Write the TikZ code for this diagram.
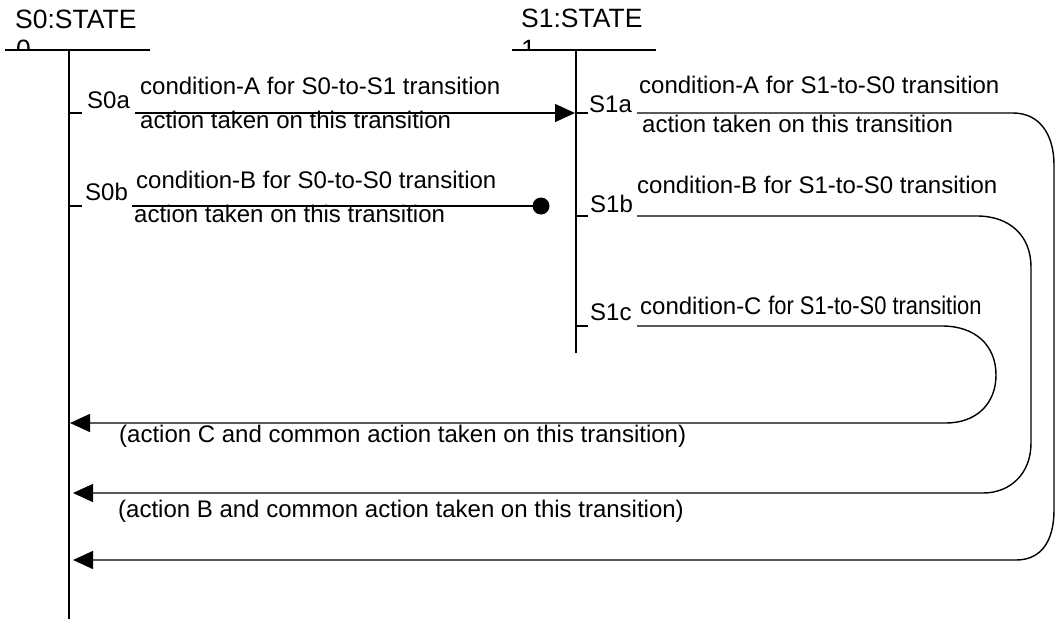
\documentclass[tikz,border=0pt]{standalone}
\usepackage{fontspec}
\setmainfont{Liberation Sans}
\newfontfamily\narrowf[FakeStretch=0.86]{Liberation Sans}
\usetikzlibrary{arrows.meta}
\begin{document}
\begin{tikzpicture}[x=1pt,y=-1pt,
  txt/.style={anchor=base west,inner sep=0pt,font=\fontsize{24}{28}\selectfont},
  hdr/.style={anchor=base west,inner sep=0pt,font=\fontsize{26.5}{30}\selectfont},
  life/.style={line width=1.5pt},
  bar/.style={line width=2.6pt},
  conn/.style={line width=1.4pt},
  tip/.style={-{Triangle[length=20pt,width=18pt]}},
]
\useasboundingbox (0,0) rectangle (1058,619);

% headers
\node[hdr] (h0) at (15,28) {S0:STATE};
\node[hdr] (h1) at (521,27) {S1:STATE};
\begin{scope}
  \clip (0,0) rectangle (1058,48.5);
  \node[hdr] (h0n) at (16,58) {0};
  \node[hdr] (h1n) at (521,58) {1};
\end{scope}
\coordinate (b0l) at (5,50);  \coordinate (b0r) at (150,50);
\coordinate (b1l) at (512,50); \coordinate (b1r) at (656,50);
\draw[bar] (b0l) -- (b0r);
\draw[bar] (b1l) -- (b1r);

% lifelines
\coordinate (l0t) at (69,50);  \coordinate (l0b) at (69,619);
\coordinate (l1t) at (576,50); \coordinate (l1b) at (576,353);
\draw[life] (l0t) -- (l0b);
\draw[life] (l1t) -- (l1b);

% ticks
\coordinate (t0a) at (69,113);  \coordinate (t0ae) at (82,113);
\coordinate (t0b) at (69,206);  \coordinate (t0be) at (82,206);
\coordinate (t1a) at (576,113); \coordinate (t1ae) at (588,113);
\coordinate (t1b) at (576,216); \coordinate (t1be) at (588,216);
\coordinate (t1c) at (576,326); \coordinate (t1ce) at (588,326);
\draw[life] (t0a) -- (t0ae);
\draw[life] (t0b) -- (t0be);
\draw[life] (t1a) -- (t1ae);
\draw[life] (t1b) -- (t1be);
\draw[life] (t1c) -- (t1ce);

% labels
\node[txt] (S0a) at (87,108) {S0a};
\node[txt] (S0b) at (85,200) {S0b};
\node[txt] (S1a) at (589,112) {S1a};
\node[txt] (S1b) at (590,212) {S1b};
\node[txt] (S1c) at (590,320) {S1c};

% S0a transition
\node[txt] (c0a) at (140,94) {condition-A for S0-to-S1 transition};
\node[txt] (a0a) at (140,128) {action taken on this transition};
\coordinate (s0a) at (135,113);
\coordinate (e0a) at (575,113);
\draw[conn,tip] (s0a) -- (e0a);

% S0b transition
\node[txt] (c0b) at (136,188) {condition-B for S0-to-S0 transition};
\node[txt] (a0b) at (134,222) {action taken on this transition};
\coordinate (s0b) at (132,206);
\node[circle,fill,inner sep=0pt,minimum size=17pt] (dot) at (541,206) {};
\draw[conn] (s0b) -- (dot.center);

% S1a transition
\node[txt] (c1a) at (639,93) {condition-A for S1-to-S0 transition};
\node[txt] (a1a) at (642,132) {action taken on this transition};
\coordinate (s1a) at (637,113);
\coordinate (ra) at (1013,113);
\coordinate (ea) at (73,560);
\draw[conn,tip] (s1a) -- (ra) .. controls (1040,113) and (1054,135) .. (1054,165)
  -- (1054,510) .. controls (1054,540) and (1042,560) .. (1016,560) -- (ea);

% S1b transition
\node[txt] (c1b) at (637,193) {condition-B for S1-to-S0 transition};
\coordinate (s1b) at (637,216);
\coordinate (rb) at (977,216);
\coordinate (eb) at (73,493);
\draw[conn,tip] (s1b) -- (rb) .. controls (1010,216) and (1031,236) .. (1031,267)
  -- (1031,443) .. controls (1031,474) and (1010,493) .. (983,493) -- (eb);
\node[txt] (a1b) at (118,517) {(action B and common action taken on this transition)};

% S1c transition
\node[txt] (c1c) at (640,314) {condition-C {\narrowf\fontsize{25.5}{29}\selectfont for S1-to-S0 transition}};
\coordinate (s1c) at (637,326);
\coordinate (rc) at (942,326);
\coordinate (ec) at (70,423);
\draw[conn,tip] (s1c) -- (rc) .. controls (976,326) and (996,346) .. (996,375)
  .. controls (996,404) and (976,423) .. (946,423) -- (ec);
\node[txt] (a1c) at (119,442) {(action C and common action taken on this transition)};
\end{tikzpicture}
\end{document}
